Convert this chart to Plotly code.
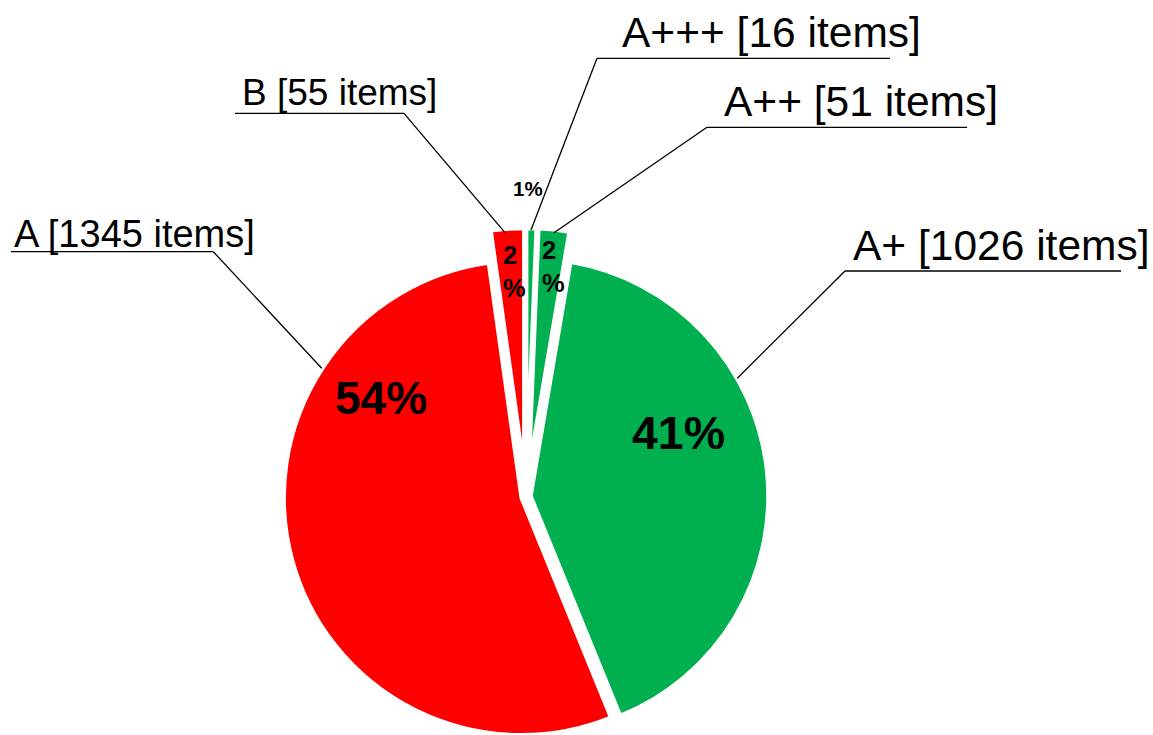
import math
import plotly.graph_objects as go

# ---- data ----
categories = ["A+++", "A++", "A+", "A", "B"]
item_counts = [16, 51, 1026, 1345, 55]
slice_colors = ["#00B050", "#00B050", "#00B050", "#FF0000", "#FF0000"]

# ---- layout constants (pixels) ----
W, H = 1153, 735
CX, CY = 526.0, 496.5      # pie centre
R = 237.0                  # pie radius
BORDER = 3.5               # white gap line width
PULL_PX = [31, 31, 5, 5, 31]  # explode distance of each slice

def px(x, y):
    return x / W, 1 - y / H

total = sum(item_counts)
fig = go.Figure()

# one trace per slice so each slice can be exploded without shrinking the pie
cum = 0.0
for i, (name, v) in enumerate(zip(categories, item_counts)):
    mid = (cum + v / 2) / total * 2 * math.pi  # clockwise from 12 o'clock
    cum += v
    cx = CX + PULL_PX[i] * math.sin(mid)
    cy = CY - PULL_PX[i] * math.cos(mid)
    colors = [slice_colors[j] if j == i else "rgba(0,0,0,0)" for j in range(len(categories))]
    widths = [BORDER if j == i else 0 for j in range(len(categories))]
    fig.add_trace(go.Pie(
        labels=categories,
        values=item_counts,
        sort=False,
        direction="clockwise",
        rotation=0,
        marker=dict(colors=colors, line=dict(color="white", width=widths)),
        textinfo="none",
        hoverinfo="skip",
        showlegend=False,
        domain=dict(x=[(cx - R) / W, (cx + R) / W],
                    y=[max(0, 1 - (cy + R) / H), min(1, 1 - (cy - R) / H)]),
    ))

pct = [round(v / total * 100) for v in item_counts]

FONT = "Liberation Sans, Arial, sans-serif"
annotations = []
shapes = []

# category labels with underline + leader line
label_pos = {   # x_left, baseline, font size, underline x0, x1, y, leader end x, y
    "A+++": (620, 47, 42.5, 597, 890, 58.3, 531, 230),
    "A++": (722, 116, 42.5, 707, 967, 127.3, 554, 232.7),
    "A+": (851, 260, 42.5, 845, 1121, 271, 737.3, 378.3),
    "A": (12, 247, 38, 11, 213.3, 251.7, 321.7, 368.3),
    "B": (240, 105, 37, 235, 404, 113.3, 505, 232.7),
}
for name, v in zip(categories, item_counts):
    xl, base, fs, ux0, ux1, uy, lx, ly = label_pos[name]
    ax, ay = px(xl, base - 0.3465 * fs)
    annotations.append(dict(text=f"{name} [{v} items]", x=ax, y=ay, xref="paper", yref="paper",
                            xanchor="left", yanchor="middle", showarrow=False,
                            font=dict(family=FONT, size=fs, color="black")))
    x0, y0 = px(ux0, uy)
    x1, y1 = px(ux1, uy)
    shapes.append(dict(type="line", xref="paper", yref="paper", x0=x0, y0=y0, x1=x1, y1=y1,
                       line=dict(color="black", width=1.3)))
    # leader from the underline end nearest the pie
    sx = ux1 if name in ("A", "B") else ux0
    a0, b0 = px(sx, uy)
    a1, b1 = px(lx, ly)
    shapes.append(dict(type="line", xref="paper", yref="paper", x0=a0, y0=b0, x1=a1, y1=b1,
                       line=dict(color="black", width=1.3)))

# percentage labels
pct_pos = {  # x, y centre, font size, anchor, two-line
    "A+++": (527.5, 189, 20.5, "center", False),
    "A++": (540.0, 266.3, 25.5, "left", True),
    "A+": (678, 432.5, 46.5, "center", False),
    "A": (381, 398, 46, "center", False),
    "B": (501.0, 271.8, 25.5, "left", True),
}
for name, p in zip(categories, pct):
    x, y, fs, anc, two = pct_pos[name]
    t = f"<b>{p}<br>%</b>" if two else f"<b>{p}%</b>"
    ax, ay = px(x, y)
    annotations.append(dict(text=t, x=ax, y=ay, xref="paper", yref="paper",
                            xanchor=anc, yanchor="middle", align="left", showarrow=False,
                            font=dict(family=FONT, size=fs, color="black")))

fig.update_layout(
    width=W, height=H, margin=dict(l=0, r=0, t=0, b=0),
    paper_bgcolor="white", plot_bgcolor="white",
    annotations=annotations, shapes=shapes,
)
fig.write_html("out.html")
